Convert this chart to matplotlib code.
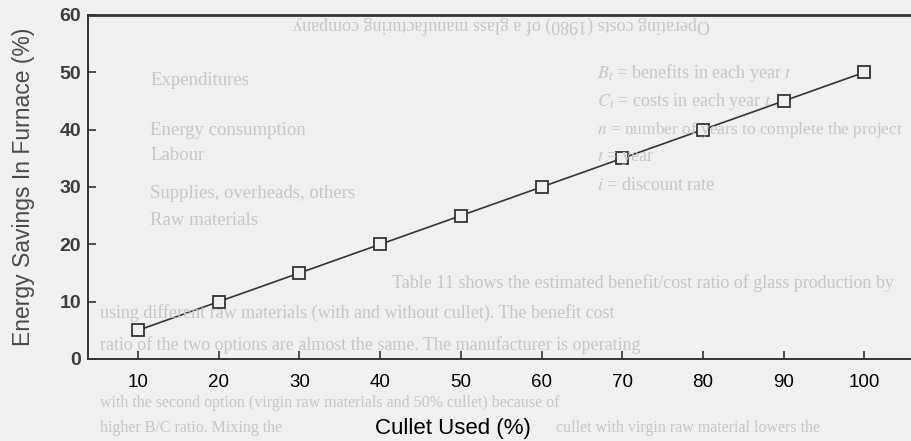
import matplotlib.pyplot as plt

# data
cullet_used = [10, 20, 30, 40, 50, 60, 70, 80, 90, 100]
energy_savings = [5, 10, 15, 20, 25, 30, 35, 40, 45, 50]
x_ticks = [10, 20, 30, 40, 50, 60, 70, 80, 90, 100]
y_ticks = [0, 10, 20, 30, 40, 50, 60]

PAPER = "#f0f0ee"
INK = "#333333"
GHOST = "#c6c6c4"

# faint text showing through the scanned page (x, y in figure fraction)
ghost_lines = [
    (0.55, 0.943, "Operating costs (1980) of a glass manufacturing company", 180, 13),
    (0.165, 0.818, "Expenditures", 0, 13.5),
    (0.165, 0.705, "Energy consumption", 0, 13.5),
    (0.165, 0.648, "Labour", 0, 13.5),
    (0.165, 0.562, "Supplies, overheads, others", 0, 13.5),
    (0.165, 0.500, "Raw materials", 0, 13.5),
    (0.655, 0.835, "$B_t$ = benefits in each year $t$", 0, 13),
    (0.655, 0.769, "$C_t$ = costs in each year $t$", 0, 13),
    (0.655, 0.705, "$n$ = number of years to complete the project", 0, 12.5),
    (0.655, 0.642, "$t$ = year", 0, 13),
    (0.655, 0.580, "$i$ = discount rate", 0, 13),
    (0.43, 0.358, "Table 11 shows the estimated benefit/cost ratio of glass production by", 0, 13),
    (0.11, 0.290, "using different raw materials (with and without cullet). The benefit cost", 0, 13),
    (0.11, 0.218, "ratio of the two options are almost the same. The manufacturer is operating", 0, 13),
    (0.11, 0.087, "with the second option (virgin raw materials and 50% cullet) because of", 0, 11.5),
    (0.11, 0.030, "higher B/C ratio. Mixing the", 0, 11.5),
    (0.61, 0.030, "cullet with virgin raw material lowers the", 0, 11.5),
]

plt.rcParams["font.family"] = ["Liberation Sans", "DejaVu Sans"]
plt.rcParams["mathtext.fontset"] = "stix"

fig = plt.figure(figsize=(9.12, 4.41), dpi=100, facecolor=PAPER)

for gx, gy, gtext, grot, gsize in ghost_lines:
    fig.text(gx, gy, gtext, rotation=grot, color=GHOST, fontsize=gsize,
             family=["Liberation Serif", "DejaVu Serif"],
             ha="center" if grot else "left", va="center", zorder=0)

ax = fig.add_axes([0.0965, 0.186, 0.9035, 0.780])
ax.set_facecolor("none")

ax.plot(cullet_used, energy_savings, color=INK, lw=1.2, marker="s",
        ms=9, mfc=PAPER, mec=INK, mew=1.3, zorder=3)

ax.set_xlim(3.8, 105.9)
ax.set_ylim(0, 60)
ax.set_xticks(x_ticks)
ax.set_yticks(y_ticks)

for side in ["left", "bottom", "top"]:
    ax.spines[side].set_color(INK)
    ax.spines[side].set_linewidth(1.4)
ax.spines["top"].set_linewidth(2.0)
ax.spines["right"].set_visible(False)

ax.tick_params(axis="y", direction="in", length=6, width=1.2, pad=5,
               colors=INK, labelsize=14)
ax.tick_params(axis="x", direction="in", length=6, width=1.2, pad=11,
               colors=INK, labelcolor="black", labelsize=13.5)
for lbl in ax.get_yticklabels():
    lbl.set_fontweight("bold")
    lbl.set_color("#3c3c3c")

ax.set_ylabel("Energy Savings In Furnace (%)", fontsize=16.5, color="#4a4a4a")
ax.yaxis.set_label_coords(-0.064, 0.5)
ax.set_xlabel("Cullet Used (%)", fontsize=16, color="black")
ax.xaxis.set_label_coords(0.443, -0.172)

fig.savefig("out.png", dpi=100, facecolor=PAPER)
